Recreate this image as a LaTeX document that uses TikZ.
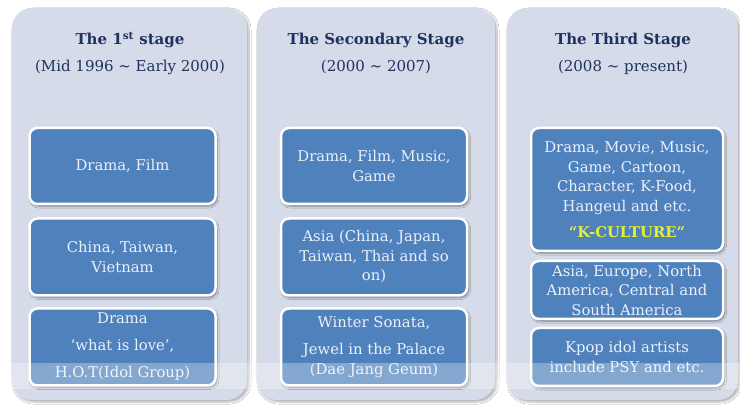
\documentclass[tikz,border=0pt]{standalone}
\usepackage{fontspec}
\setmainfont{DejaVu Serif}
\usetikzlibrary{shadows,shadows.blur}
\definecolor{panelfill}{RGB}{213,219,232}
\definecolor{boxfill}{RGB}{79,129,189}
\definecolor{titlenavy}{RGB}{31,50,96}
\definecolor{boxtext}{RGB}{234,241,251}
\definecolor{kyellow}{RGB}{228,240,50}
\tikzset{
  panel/.style={fill=panelfill, rounded corners=20pt,
    blur shadow={shadow xshift=2pt, shadow yshift=-2pt, shadow blur steps=6, shadow opacity=30}},
  itembox/.style={draw=white, line width=2.5pt, fill=boxfill, rounded corners=8pt,
    blur shadow={shadow xshift=1.5pt, shadow yshift=-2pt, shadow blur steps=5, shadow opacity=45},
    text=boxtext, align=center, inner sep=0pt,
    font=\fontsize{14.8}{19.5}\selectfont},
  stagetitle/.style={text=titlenavy, font=\bfseries\fontsize{15}{20}\selectfont},
  period/.style={text=titlenavy, font=\fontsize{15}{20}\selectfont},
}
\begin{document}
\begin{tikzpicture}[x=1pt,y=-1pt]
\useasboundingbox (0,0) rectangle (740,406);
\fill[white] (0,0) rectangle (740,406);

% stage panels
\path[panel] (12,8) rectangle (247,400);
\path[panel] (257,8) rectangle (495,400);
\path[panel] (507,8) rectangle (738,400);

% stage headings
\node[stagetitle] (t1) at (130,40) {The 1\textsuperscript{st} stage};
\node[period] (p1) at (130,67) {(Mid 1996 \textasciitilde{} Early 2000)};
\node[stagetitle] (t2) at (376,40) {The Secondary Stage};
\node[period] (p2) at (376,67) {(2000 \textasciitilde{} 2007)};
\node[stagetitle] (t3) at (623,40) {The Third Stage};
\node[period] (p3) at (623,67) {(2008 \textasciitilde{} present)};

% first stage
\node[itembox, minimum width=186pt, minimum height=76pt] (a1) at (122.5,166) {Drama, Film};
\node[itembox, minimum width=186pt, minimum height=77pt] (a2) at (122.5,257) {China, Taiwan,\\Vietnam};
\node[itembox, minimum width=186pt, minimum height=77pt] (a3) at (122.5,347) {Drama\\[7.5pt]`what is love',\\[7.5pt]H.O.T(Idol Group)};

% second stage
\node[itembox, minimum width=186pt, minimum height=76pt] (b1) at (374,166) {Drama, Film, Music,\\Game};
\node[itembox, minimum width=186pt, minimum height=77pt] (b2) at (374,257) {Asia (China, Japan,\\Taiwan, Thai and so\\on)};
\node[itembox, minimum width=186pt, minimum height=77pt] (b3) at (374,347) {Winter Sonata,\\[7.5pt]Jewel in the Palace\\(Dae Jang Geum)};

% third stage
\node[itembox, minimum width=192pt, minimum height=123pt] (c1) at (627,189.5) {Drama, Movie, Music,\\Game, Cartoon,\\Character, K-Food,\\Hangeul and etc.\\[6.5pt]{\color{kyellow}\bfseries ``K-CULTURE''}};
\node[itembox, minimum width=192pt, minimum height=58pt] (c2) at (627,290) {Asia, Europe, North\\America, Central and\\South America};
\node[itembox, minimum width=192pt, minimum height=58pt] (c3) at (627,357) {Kpop idol artists\\include PSY and etc.};

% pale band across the lower edge
\fill[white, opacity=0.3] (0,363) rectangle (740,389);
\end{tikzpicture}
\end{document}
